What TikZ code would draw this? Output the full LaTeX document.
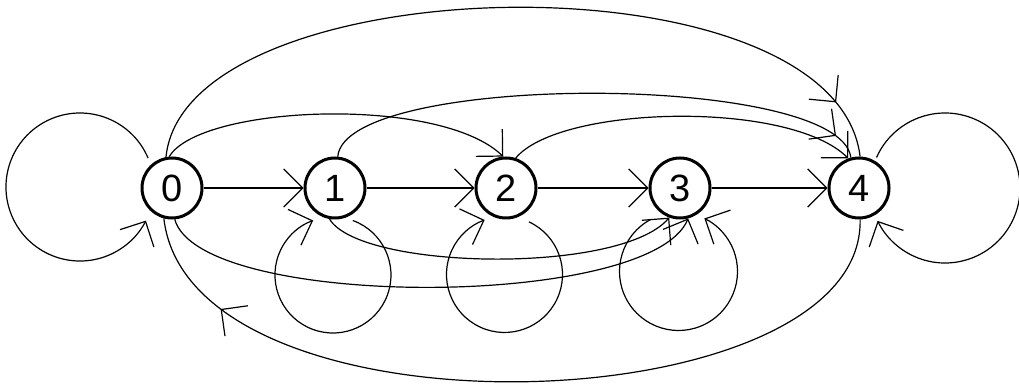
\documentclass[tikz,border=0pt]{standalone}
\usepackage{fontspec}
\setmainfont{Liberation Sans}
\usetikzlibrary{arrows.meta,decorations.markings,calc}
\begin{document}
\begin{tikzpicture}[x=1pt,y=1pt,
  >={Straight Barb[length=19pt,width=38pt]},
  state/.style={circle,draw,line width=3pt,minimum size=60pt,inner sep=0pt,
    font=\fontsize{38}{38}\selectfont},
  edge/.style={line width=1.2pt,->},
  midarrow/.style={line width=1.2pt,postaction={decorate},
    decoration={markings,mark=at position #1 with {\arrow{>}}}}]
\useasboundingbox (0,0) rectangle (1019,385);
% nodes
\node[state] (n0) at (172,197) {0};
\node[state] (n1) at (335,197) {1};
\node[state] (n2) at (506,197) {2};
\node[state] (n3) at (680,197) {3};
\node[state] (n4) at (859,197) {4};
% straight edges
\draw[edge] (n0) -- (n1);
\draw[edge] (n1) -- (n2);
\draw[edge] (n2) -- (n3);
\draw[edge] (n3) -- (n4);
% self loops
\draw[edge] ($(n0)+(-23.9,29.9)$) arc[start angle=23,end angle=333,radius=74];
\draw[edge] ($(n4)+(17.5,30.5)$) arc[start angle=156,end angle=-154,radius=75];
\draw[edge] ($(n1)+(17.8,-32.5)$) arc[start angle=70,end angle=-250,radius=58];
\draw[edge] ($(n2)+(23,-33.9)$) arc[start angle=65,end angle=-250,radius=58];
\draw[edge] ($(n3)+(-29.2,-31.4)$) arc[start angle=118,end angle=424,radius=59];
% upper curves
\draw[midarrow=-60pt] (n0.101) .. controls (185,420) and (835,435) .. (n4.88);
\draw[edge] (n0.95) .. controls (200,280) and (440,290) .. (n2.95);
\draw[midarrow=-27pt] (n1.85) .. controls (345,313) and (840,313) .. (n4.105);
\draw[edge] (n2.72) .. controls (560,280) and (790,285) .. (n4.110);
% lower curves
\draw[edge] (n0.275) .. controls (200,75) and (650,75) .. (n3.285);
\draw[edge] (n1.260) .. controls (360,115) and (620,110) .. (n3.250);
\draw[midarrow=-110pt] (n4.272) .. controls (865,-40) and (190,-62) .. (n0.255);
\end{tikzpicture}
\end{document}
